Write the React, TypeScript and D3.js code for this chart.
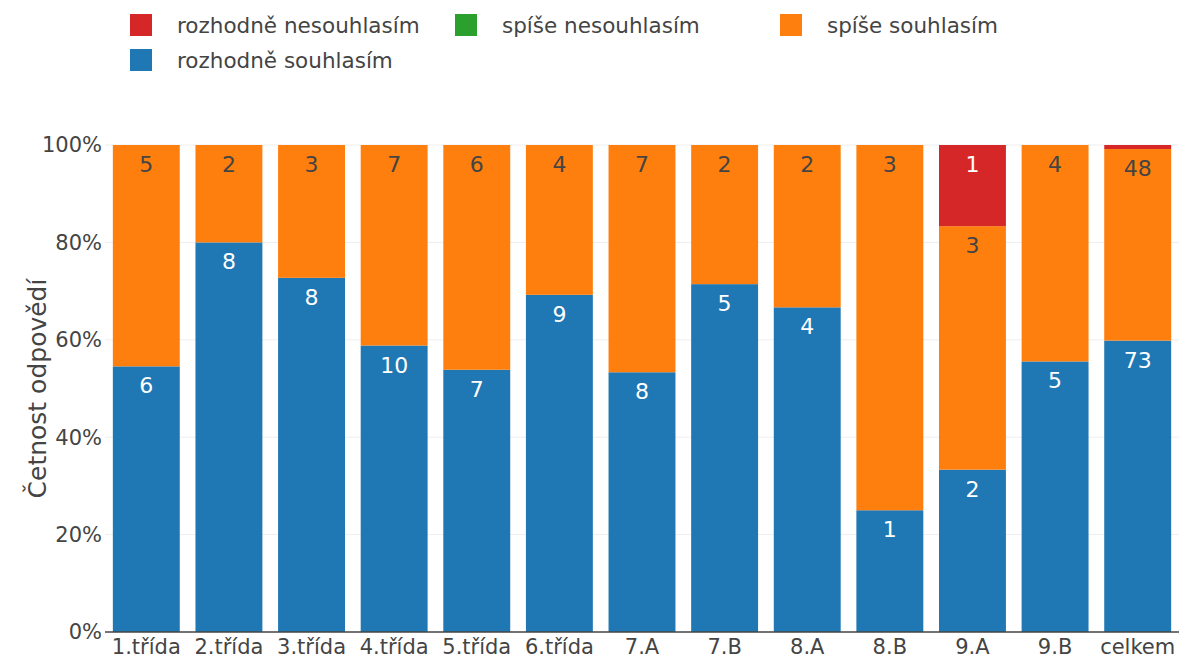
import * as d3 from "d3";
import React from "react";

const categories = [
  "1.třída", "2.třída", "3.třída", "4.třída", "5.třída", "6.třída",
  "7.A", "7.B", "8.A", "8.B", "9.A", "9.B", "celkem",
];

// counts per class, stacked bottom to top
const rozhodneSouhlasim = [6, 8, 8, 10, 7, 9, 8, 5, 4, 1, 2, 5, 73];
const spiseSouhlasim = [5, 2, 3, 7, 6, 4, 7, 2, 2, 3, 3, 4, 48];
const spiseNesouhlasim = [0, 0, 0, 0, 0, 0, 0, 0, 0, 0, 0, 0, 0];
const rozhodneNesouhlasim = [0, 0, 0, 0, 0, 0, 0, 0, 0, 0, 1, 0, 1];

const yTicks = [0, 0.2, 0.4, 0.6, 0.8, 1];

const series = [
  { name: "rozhodně souhlasím", values: rozhodneSouhlasim, color: "#1f77b4", text: "#fff" },
  { name: "spíše souhlasím", values: spiseSouhlasim, color: "#ff7f0e", text: "#444" },
  { name: "spíše nesouhlasím", values: spiseNesouhlasim, color: "#2ca02c", text: "#fff" },
  { name: "rozhodně nesouhlasím", values: rozhodneNesouhlasim, color: "#d62728", text: "#fff" },
];

// legend order as in the original
const legendItems = [
  { s: 3, x: 130, y: 25 },
  { s: 2, x: 455, y: 25 },
  { s: 1, x: 780, y: 25 },
  { s: 0, x: 130, y: 60 },
];

const W = 1179;
const H = 656;
const margin = { top: 145, right: 0, bottom: 24, left: 105 };
const font = "'DejaVu Sans', Verdana, sans-serif";

export default function App() {
  const x = d3
    .scaleBand()
    .domain(categories)
    .range([margin.left, W - margin.right])
    .paddingInner(0.19)
    .paddingOuter(0.095);
  const y = d3.scaleLinear().domain([0, 1]).range([H - margin.bottom, margin.top]);

  const rows = categories.map((c, i) => {
    const obj: Record<string, number | string> = { cat: c };
    const total = d3.sum(series, (s) => s.values[i]);
    series.forEach((s) => (obj[s.name] = s.values[i] / total));
    return obj;
  });
  const stack = d3.stack<any>().keys(series.map((s) => s.name));
  const layers = stack(rows);

  return (
    <svg width={W} height={H} style={{ position: "absolute", left: 0, top: 0 }} fontFamily={font}>
      {yTicks.slice(1).map((t) => (
        <line key={t} x1={margin.left} x2={W} y1={y(t)} y2={y(t)} stroke="#eee" strokeWidth={1} />
      ))}
      {layers.map((layer, li) => (
        <g key={li}>
          {layer.map((d, i) => {
            const v = series[li].values[i];
            if (!v) return null;
            const top = y(d[1]);
            const h = y(d[0]) - top;
            return (
              <g key={i}>
                <rect x={x(categories[i])} y={top} width={x.bandwidth()} height={h} fill={series[li].color} />
                {h > 25 && (
                  <text
                    x={(x(categories[i]) as number) + x.bandwidth() / 2}
                    y={top + 27}
                    textAnchor="middle"
                    fontSize={22}
                    fill={series[li].text}
                  >
                    {v}
                  </text>
                )}
              </g>
            );
          })}
        </g>
      ))}
      <line x1={margin.left} x2={W} y1={y(0)} y2={y(0)} stroke="#444" strokeWidth={1.5} />
      {yTicks.map((t) => (
        <text key={t} x={102} y={y(t)} dy="0.35em" textAnchor="end" fontSize={21} fill="#444">
          {`${Math.round(t * 100)}%`}
        </text>
      ))}
      {categories.map((c) => (
        <text key={c} x={(x(c) as number) + x.bandwidth() / 2} y={654} textAnchor="middle" fontSize={21} fill="#444">
          {c}
        </text>
      ))}
      <text
        transform={`translate(46,${(margin.top + y(0)) / 2}) rotate(-90)`}
        textAnchor="middle"
        fontSize={25}
        fill="#444"
      >
        Četnost odpovědí
      </text>
      {legendItems.map((l) => (
        <g key={l.s}>
          <rect x={l.x} y={l.y - 11} width={22} height={22} fill={series[l.s].color} />
          <text x={l.x + 47} y={l.y} dy="0.35em" fontSize={21.5} fill="#444">
            {series[l.s].name}
          </text>
        </g>
      ))}
    </svg>
  );
}
